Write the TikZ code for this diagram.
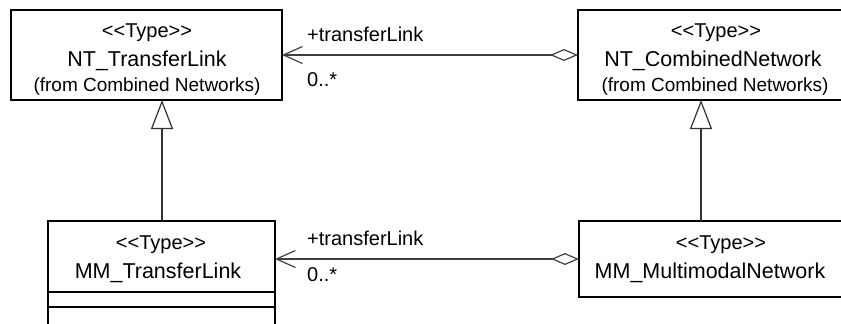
\documentclass[tikz,border=0pt]{standalone}
\usepackage{fontspec}
\setmainfont{Liberation Sans}
\usetikzlibrary{arrows.meta}
\tikzset{
  box/.style={draw=black, line width=2.4pt, fill=white, inner sep=0pt},
  txt/.style={inner sep=0pt, anchor=center},
  stereo/.style={txt, font=\fontsize{20}{22}\selectfont},
  cname/.style={txt, font=\fontsize{21.5}{24}\selectfont},
  fromt/.style={txt, font=\fontsize{19}{22}\selectfont},
  lbl/.style={inner sep=0pt, anchor=west, font=\fontsize{20}{22}\selectfont},
  assoc/.style={draw=black!75, line width=1.2pt,
    {Diamond[open,length=28pt,width=12pt,line width=1.2pt]}-{Straight Barb[length=19pt,width=17pt,line width=1.2pt]}},
  gen/.style={draw=black!80, line width=1.2pt,
    -{Triangle[open,length=29pt,width=22pt,line width=1.2pt]}},
}
\begin{document}
\begin{tikzpicture}[x=1pt,y=-1pt]
\useasboundingbox (0,0) rectangle (841,324);
% boxes
\draw[box] (11,10) rectangle (282,100);
\coordinate (b1w) at (11,55);
\draw[box] (578,10) rectangle (852,100);
\draw[box] (48,221) rectangle (275,340);
\draw[line width=2pt] (48,292) -- (275,292);
\draw[line width=2pt] (48,307) -- (275,307);
\draw[box] (579,221) rectangle (852,297);
% anchor coordinates on box edges
\coordinate (b1e) at (282,55);
\coordinate (b1s) at (162,100);
\coordinate (b2w) at (578,55);
\coordinate (b2s) at (701,100);
\coordinate (b3e) at (275,259);
\coordinate (b3n) at (162,221);
\coordinate (b4w) at (579,259);
\coordinate (b4n) at (701,221);
% texts
\node[stereo] (t1a) at (147,33) {<{}<Type>{}>};
\node[cname]  (t1b) at (147,61) {NT\_TransferLink};
\node[fromt]  (t1c) at (147,87) {(from Combined Networks)};
\node[stereo] (t2a) at (716,33) {<{}<Type>{}>};
\node[cname]  (t2b) at (713,61) {NT\_CombinedNetwork};
\node[fromt]  (t2c) at (715,87) {(from Combined Networks)};
\node[stereo] (t3a) at (161,245) {<{}<Type>{}>};
\node[cname]  (t3b) at (158,273) {MM\_TransferLink};
\node[stereo] (t4a) at (721,245) {<{}<Type>{}>};
\node[cname]  (t4b) at (710,273) {MM\_MultimodalNetwork};
% connectors
\draw[assoc] (b2w) -- (b1e);
\draw[assoc] (b4w) -- (b3e);
\draw[gen] (b3n) -- (b1s);
\draw[gen] (b4n) -- (b2s);
% labels
\node[lbl] (l1) at (307,34) {+transferLink};
\node[lbl] (m1) at (307,80) {0..*};
\node[lbl] (l2) at (307,238) {+transferLink};
\node[lbl] (m2) at (307,275) {0..*};
\end{tikzpicture}
\end{document}
